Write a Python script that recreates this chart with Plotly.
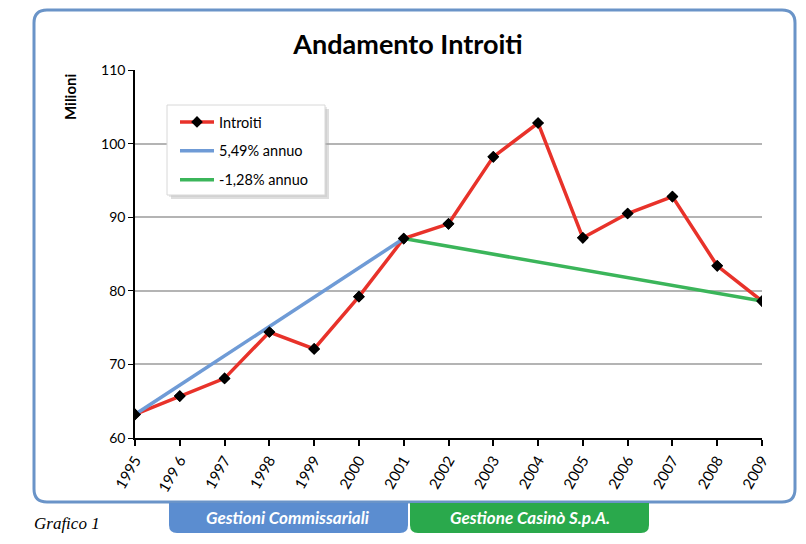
import plotly.graph_objects as go

# ---- data ----
years = [1995, 1996, 1997, 1998, 1999, 2000, 2001, 2002, 2003, 2004, 2005, 2006, 2007, 2008, 2009]
year_labels = ["1995", "199 6", "1997", "1998", "1999", "2000", "2001", "2002", "2003", "2004",
               "2005", "2006", "2007", "2008", "2009"]
introiti = [63.2, 65.7, 68.1, 74.4, 72.1, 79.2, 87.1, 89.1, 98.2, 102.8, 87.2, 90.5, 92.8, 83.4, 78.6]
trend1_years = [1995, 2001]
trend1_vals = [63.2, 87.1]
trend2_years = [2001, 2009]
trend2_vals = [87.1, 78.6]
series_names = ["Introiti", "5,49% annuo", "-1,28% annuo"]

OFF = 8  # page body margin
W, H = 806 - OFF, 544 - OFF
PL, PR, PT, PB = 135, 762, 70, 438  # plot area in page pixels
L, T = PL - OFF, PT - OFF
R, B = W - (PR - OFF), H - (PB - OFF)
PW, PH = PR - PL, PB - PT


def px(x):
    return (x - PL) / PW


def py(y):
    return (PB - y) / PH


RED = "#e8322a"
BLUE = "#6f9bd6"
GREEN = "#3bb55a"
FRAME = "#6a94c8"
FONT = "Lato"

fig = go.Figure()
fig.add_trace(go.Scatter(x=years, y=introiti, mode="lines+markers", name=series_names[0],
                         line=dict(color=RED, width=3.5),
                         marker=dict(symbol="diamond", size=9, color="black"),
                         legendgroup="a"))
fig.add_trace(go.Scatter(x=trend1_years, y=trend1_vals, mode="lines", name=series_names[1],
                         line=dict(color=BLUE, width=3.5), legendgroup="b"))
fig.add_trace(go.Scatter(x=trend2_years, y=trend2_vals, mode="lines", name=series_names[2],
                         line=dict(color=GREEN, width=3.5), legendgroup="c"))
fig.add_trace(go.Scatter(x=years, y=introiti, mode="markers", showlegend=False,
                         marker=dict(symbol="diamond", size=9, color="black"),
                         hoverinfo="skip"))


def rounded_path(xa, ya, xb, yb, rad, top=True, bottom=True):
    rt = rad if top else 0
    rb = rad if bottom else 0
    p = f"M {px(xa + rt)},{py(ya)} L {px(xb - rt)},{py(ya)} "
    if rt:
        p += f"Q {px(xb)},{py(ya)} {px(xb)},{py(ya + rt)} "
    p += f"L {px(xb)},{py(yb - rb)} "
    if rb:
        p += f"Q {px(xb)},{py(yb)} {px(xb - rb)},{py(yb)} "
    p += f"L {px(xa + rb)},{py(yb)} "
    if rb:
        p += f"Q {px(xa)},{py(yb)} {px(xa)},{py(yb - rb)} "
    p += f"L {px(xa)},{py(ya + rt)} "
    if rt:
        p += f"Q {px(xa)},{py(ya)} {px(xa + rt)},{py(ya)} "
    p += "Z"
    return p


shapes = [
    dict(type="path", xref="paper", yref="paper", path=rounded_path(34, 10, 795, 502, 13),
         line=dict(color=FRAME, width=3), fillcolor="rgba(0,0,0,0)", layer="below"),
    dict(type="path", xref="paper", yref="paper", path=rounded_path(169, 503, 408, 533, 8, top=False),
         line=dict(width=0), fillcolor="#5b8dd0"),
    dict(type="path", xref="paper", yref="paper", path=rounded_path(410, 503, 649, 533, 8, top=False),
         line=dict(width=0), fillcolor="#2aa94c"),
    # legend shadow + box
    dict(type="rect", xref="paper", yref="paper", x0=px(171), x1=px(329), y0=py(109), y1=py(199),
         line=dict(width=0), fillcolor="rgba(160,160,160,0.35)"),
    dict(type="rect", xref="paper", yref="paper", x0=px(169), x1=px(327), y0=py(107), y1=py(197),
         line=dict(width=0), fillcolor="rgba(190,190,190,0.35)"),
    dict(type="rect", xref="paper", yref="paper", x0=px(167), x1=px(325), y0=py(105), y1=py(195),
         line=dict(color="#d8d8d8", width=1), fillcolor="white"),
]

annotations = [
    dict(text="Milioni", xref="paper", yref="paper", x=px(70), y=py(97), textangle=-90,
         showarrow=False, font=dict(family=FONT, size=15, color="black", weight="bold"),
         xanchor="center", yanchor="middle"),
    dict(text="Grafico 1", xref="paper", yref="paper", x=px(32), y=py(523),
         showarrow=False, xanchor="left", yanchor="middle",
         font=dict(family="Liberation Serif", size=17, color="black", style="italic")),
    dict(text="Gestioni Commissariali", xref="paper", yref="paper", x=px(288), y=py(517),
         showarrow=False, xanchor="center", yanchor="middle",
         font=dict(family=FONT, size=17, color="white", weight="bold", style="italic")),
    dict(text="Gestione Casinò S.p.A.", xref="paper", yref="paper", x=px(530), y=py(517),
         showarrow=False, xanchor="center", yanchor="middle",
         font=dict(family=FONT, size=17, color="white", weight="bold", style="italic")),
]

fig.update_layout(
    width=W, height=H,
    margin=dict(l=L, r=R, t=T, b=B),
    paper_bgcolor="white", plot_bgcolor="white",
    title=dict(text="Andamento Introiti", x=(408 - OFF) / W, xanchor="center", y=1 - (45 - OFF) / H,
               yanchor="middle", font=dict(family=FONT, size=27, color="black", weight="bold")),
    font=dict(family=FONT, color="black"),
    showlegend=True,
    legend=dict(x=px(175), y=py(106), xanchor="left", yanchor="top",
                bgcolor="rgba(0,0,0,0)", borderwidth=0,
                font=dict(family=FONT, size=14.5, color="black"),
                tracegroupgap=7, itemwidth=34),
    shapes=shapes,
    annotations=annotations,
    xaxis=dict(range=[1995, 2009], tickmode="array", tickvals=years, ticktext=year_labels,
               tickangle=-60, showgrid=False, showline=True, linecolor="black", linewidth=1.5,
               ticks="outside", ticklen=6, tickcolor="black", tickwidth=1.5,
               tickfont=dict(family=FONT, size=15, color="black"), zeroline=False),
    yaxis=dict(range=[60, 110], dtick=10, showgrid=True, gridcolor="#b4b4b4", gridwidth=1.5,
               showline=True, linecolor="black", linewidth=1.5, ticks="outside", ticklen=5,
               tickcolor="black", tickfont=dict(family=FONT, size=14, color="black"),
               zeroline=False),
)

fig.write_html("out.html")
